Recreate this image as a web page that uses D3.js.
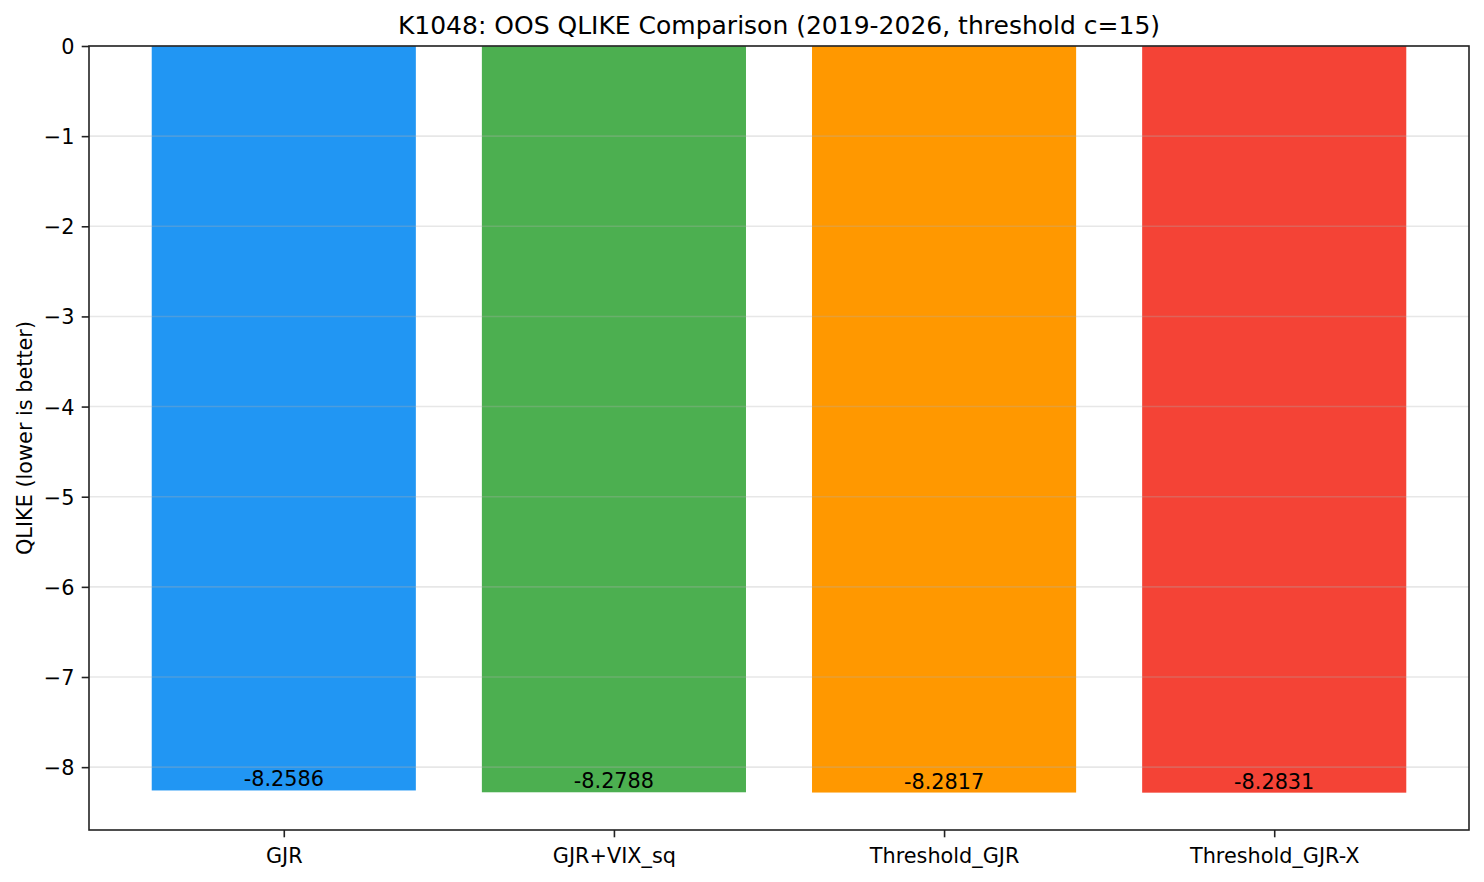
<!DOCTYPE html>
<html>
<head>
<meta charset="utf-8">
<script src="https://cdn.jsdelivr.net/npm/d3@7"></script>
<style>
  html, body { margin: 0; padding: 0; background: #fff; }
  svg text { font-family: "DejaVu Sans", sans-serif; fill: #000; }
</style>
</head>
<body>
<svg id="chart" width="1484" height="882"></svg>
<script>
const categories = ["GJR", "GJR+VIX_sq", "Threshold_GJR", "Threshold_GJR-X"];
const values = [-8.2586, -8.2788, -8.2817, -8.2831];
const colors = ["#2196F3", "#4CAF50", "#FF9800", "#F44336"];
const yTicks = [0, -1, -2, -3, -4, -5, -6, -7, -8];
const titleText = "K1048: OOS QLIKE Comparison (2019-2026, threshold c=15)";
const yLabel = "QLIKE (lower is better)";

const svg = d3.select("#chart");
const L = 89, R = 1469, T = 46, B = 830;

const minV = d3.min(values);
const x = d3.scaleLinear().domain([-0.59, categories.length - 1 + 0.59]).range([L, R]);
const y = d3.scaleLinear().domain([minV * 1.05, 0]).range([B, T]);
const barW = x(0.8) - x(0);

// bars
svg.append("g").selectAll("rect").data(values).join("rect")
  .attr("x", (d, i) => x(i) - barW / 2)
  .attr("width", barW)
  .attr("y", y(0))
  .attr("height", d => y(d) - y(0))
  .attr("fill", (d, i) => colors[i]);

// grid on top
svg.append("g").selectAll("line").data(yTicks).join("line")
  .attr("x1", L).attr("x2", R)
  .attr("y1", d => y(d)).attr("y2", d => y(d))
  .attr("stroke", "#b0b0b0").attr("stroke-opacity", 0.3).attr("stroke-width", 1.6);

// value labels
svg.append("g").selectAll("text").data(values).join("text")
  .attr("x", (d, i) => x(i))
  .attr("y", d => y(d) - 4)
  .attr("text-anchor", "middle")
  .attr("font-size", "20.8px")
  .text(d => d.toFixed(4));

// y axis
const yAxis = d3.axisLeft(y).tickValues(yTicks).tickSize(7.3).tickPadding(7.3).tickFormat(d3.format("d"));
const gy = svg.append("g").attr("transform", `translate(${L},0)`).call(yAxis);
gy.select(".domain").remove();
gy.selectAll(".tick line").attr("stroke", "#222").attr("stroke-width", 1.6);
gy.selectAll(".tick text").attr("font-size", "20.8px").attr("font-family", "DejaVu Sans").attr("fill", "#000").attr("dy", "0.36em");

// x axis
const xAxis = d3.axisBottom(x).tickValues(d3.range(categories.length)).tickSize(7.3).tickPadding(7.3).tickFormat(i => categories[i]);
const gx = svg.append("g").attr("transform", `translate(0,${B})`).call(xAxis);
gx.select(".domain").remove();
gx.selectAll(".tick line").attr("stroke", "#222").attr("stroke-width", 1.6);
gx.selectAll(".tick text").attr("font-size", "20.8px").attr("font-family", "DejaVu Sans").attr("fill", "#000").attr("dy", null).attr("y", 33);

// frame
svg.append("rect").attr("x", L).attr("y", T).attr("width", R - L).attr("height", B - T)
  .attr("fill", "none").attr("stroke", "#222").attr("stroke-width", 1.6);

// title
svg.append("text").attr("x", (L + R) / 2).attr("y", 33.5).attr("text-anchor", "middle")
  .attr("font-size", "25px").text(titleText);

// y label
svg.append("text").attr("transform", `translate(32,${(T + B) / 2}) rotate(-90)`)
  .attr("text-anchor", "middle").attr("font-size", "20.8px").text(yLabel);
</script>
</body>
</html>
